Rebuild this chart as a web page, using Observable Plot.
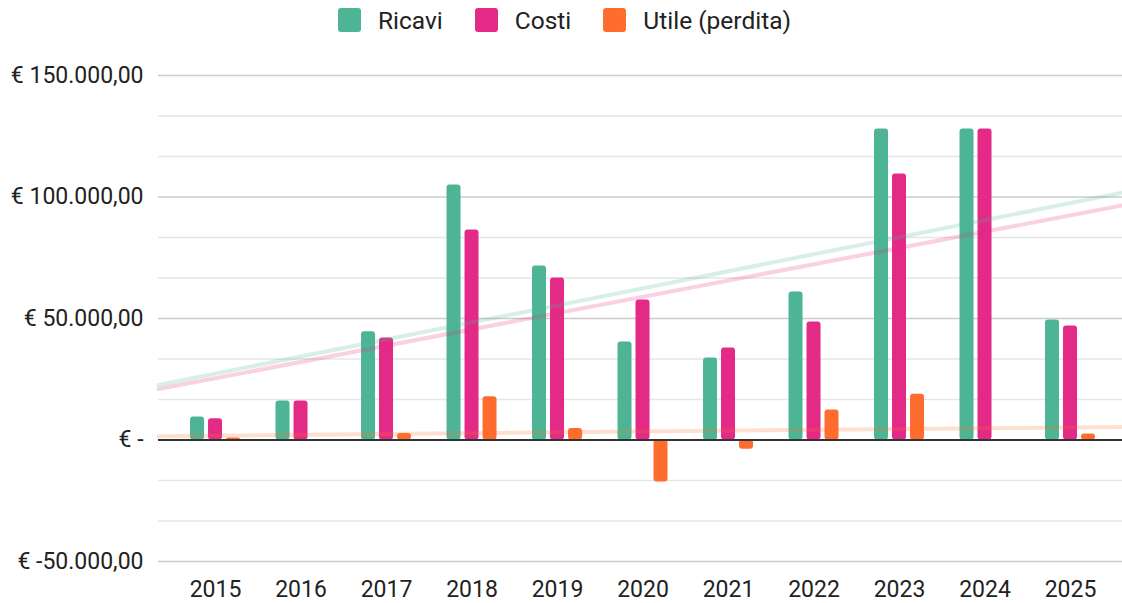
<!DOCTYPE html>
<html><head><meta charset="utf-8">
<script src="https://cdn.jsdelivr.net/npm/d3@7"></script>
<script src="https://cdn.jsdelivr.net/npm/@observablehq/plot@0.6"></script>
<style>
body{margin:0;background:#fff;font-family:Roboto,sans-serif;width:1122px;height:603px;overflow:hidden}
#legend{height:40px;display:flex;justify-content:center;align-items:center;font-size:24.5px;color:#222;padding-left:7px}
#legend .item{display:flex;align-items:center;margin:0 16px}
#legend .sw{width:23px;height:24px;border-radius:3px;margin-right:17px}
#chart svg{display:block}
</style></head><body>
<div id="legend"></div>
<div id="chart"></div>
<script>
const years  = [2015, 2016, 2017, 2018, 2019, 2020, 2021, 2022, 2023, 2024, 2025];
const ricavi = [9500, 16000, 44500, 104900, 71600, 40300, 33700, 60900, 128000, 128000, 49400];
const costi  = [8700, 16000, 42000, 86400, 66700, 57600, 37900, 48600, 109500, 128000, 46900];
const utile  = [800, 0, 2700, 17800, 4700, -17300, -3800, 12300, 18800, 0, 2500];
const seriesNames = ["Ricavi", "Costi", "Utile (perdita)"];
const seriesColors = ["#4db596", "#e32a86", "#ff6d2e"];
const yTicks = [-50000, 0, 50000, 100000, 150000];

const seriesValues = [ricavi, costi, utile];

// legend
const legend = document.getElementById("legend");
seriesNames.forEach((n, i) => {
  const it = document.createElement("div"); it.className = "item";
  const sw = document.createElement("div"); sw.className = "sw"; sw.style.background = seriesColors[i];
  const tx = document.createElement("span"); tx.textContent = n;
  it.append(sw, tx); legend.append(it);
});

const loc = d3.formatLocale({decimal: ",", thousands: ".", grouping: [3], currency: ["€ ", ""], minus: "-"});
const fmt = loc.format(",.2f");
const tickFormat = v => v === 0 ? "€ -" : "€ " + fmt(v);

const xDomain = [2014.333, 2025.608];
const off = 18 / 85.5;       // bar offset within group
const hw = 7 / 85.5;         // half bar width

const marks = [];
// minor grid
const minor = d3.range(-50000, 150001, 50000 / 3).filter(v => Math.abs(v / 50000 - Math.round(v / 50000)) > 1e-6);
marks.push(Plot.ruleY(minor, {stroke: "#e6e6e6", strokeWidth: 1.5}));
marks.push(Plot.ruleY(yTicks.filter(v => v !== 0), {stroke: "#cccccc", strokeWidth: 1.5}));

// bars
seriesValues.forEach((vals, i) => {
  const rows = years.map((y, j) => ({year: y, value: vals[j]}));
  marks.push(Plot.rect(rows, {
    x1: d => d.year + (i - 1) * off - hw,
    x2: d => d.year + (i - 1) * off + hw,
    y1: () => 0, y2: "value",
    fill: seriesColors[i], rx: 3
  }));
});

// linear trendlines (least squares over year index)
seriesValues.forEach((vals, i) => {
  const xs = years.map(y => y - years[0]);
  const mx = d3.mean(xs), my = d3.mean(vals);
  const b = d3.sum(xs.map((x, j) => (x - mx) * (vals[j] - my))) / d3.sum(xs.map(x => (x - mx) ** 2));
  const a = my - b * mx;
  const pts = xDomain.map(x => ({x, y: a + b * (x - years[0])}));
  marks.push(Plot.line(pts, {x: "x", y: "y", stroke: seriesColors[i], strokeOpacity: 0.22, strokeWidth: 4}));
});

marks.push(Plot.ruleY([0], {stroke: "#333", strokeWidth: 2}));
marks.push(Plot.axisY({ticks: yTicks, tickFormat, tickSize: 0, tickPadding: 15, fontSize: 23}));
marks.push(Plot.axisX({ticks: years, tickFormat: d => String(d), tickSize: 0, tickPadding: 19, fontSize: 23}));

const chart = Plot.plot({
  width: 1122, height: 563,
  marginLeft: 158, marginRight: 0, marginTop: 35, marginBottom: 42,
  x: {domain: xDomain, label: null},
  y: {domain: [-50000, 150000], label: null},
  style: {fontFamily: "Roboto, sans-serif", color: "#222", background: "#fff", overflow: "visible"},
  marks
});
document.getElementById("chart").append(chart);
</script>
</body></html>
